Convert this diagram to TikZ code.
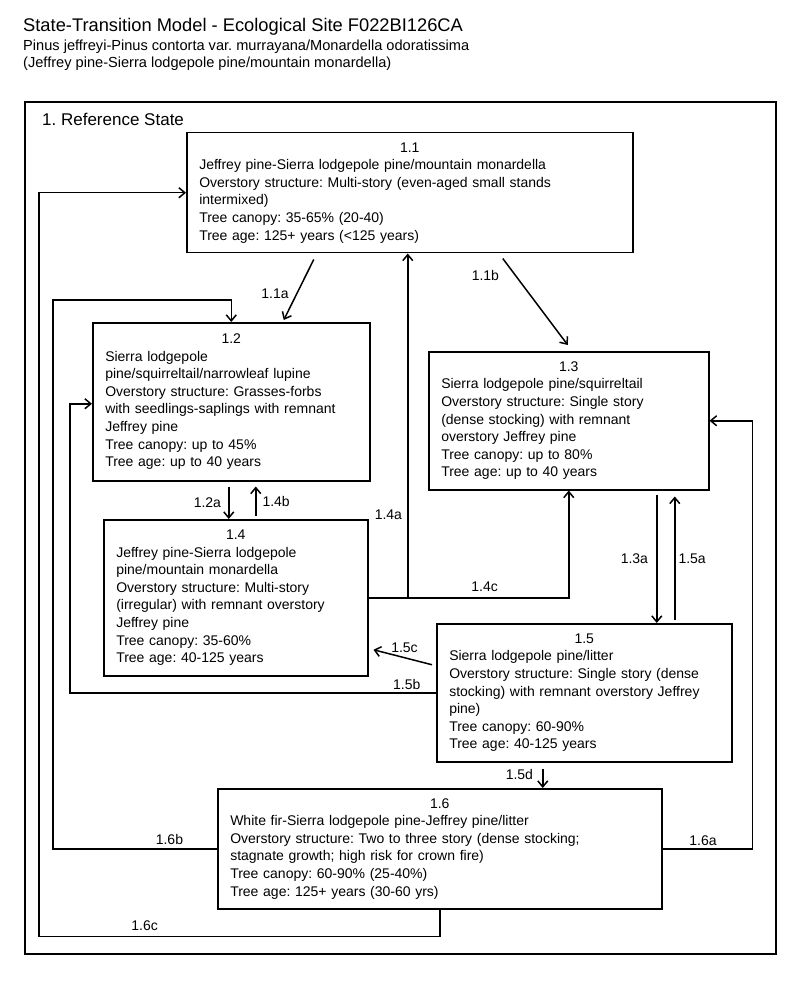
\documentclass[tikz,border=0pt]{standalone}
\usepackage{fontspec}
\setmainfont{Liberation Sans}
\usetikzlibrary{arrows.meta}
\frenchspacing

\tikzset{
  statebox/.style={draw, line width=1.5pt, anchor=north west, align=left,
    inner xsep=12.5pt, inner ysep=0pt, font=\fontsize{14}{17.6}\selectfont},
  trans/.style={line width=1.5pt, -{Straight Barb[length=6pt,width=10pt,line width=1.5pt]}},
  lbl/.style={inner sep=0pt, font=\fontsize{14}{16}\selectfont}
}
\newcommand{\stnum}[1]{\makebox[\linewidth]{#1}\\}

\begin{document}
\begin{tikzpicture}[x=1pt, y=-1pt]
      \useasboundingbox (0,0) rectangle (800,981);

      % Heading
      \node[anchor=west, inner sep=0pt, font=\fontsize{18.3}{20}\selectfont] (title) at (23,27) {State-Transition Model - Ecological Site F022BI126CA};
      \node[anchor=west, inner sep=0pt, font=\fontsize{14.6}{16}\selectfont] (sci) at (23,47) {Pinus jeffreyi-Pinus contorta var. murrayana/Monardella odoratissima};
      \node[anchor=west, inner sep=0pt, font=\fontsize{14.6}{16}\selectfont] (common) at (23,64) {(Jeffrey pine-Sierra lodgepole pine/mountain monardella)};

      % Reference state frame
      \draw[line width=2.4pt] (25,102) rectangle (776,954);
      \node[anchor=west, inner sep=0pt, font=\fontsize{17}{19}\selectfont] (refstate) at (42,119) {1. Reference State};

      % States
      \node[statebox, text width=421pt, minimum height=120pt] (s11) at (186,132) {\stnum{1.1}Jeffrey pine-Sierra lodgepole pine/mountain monardella\\Overstory structure: Multi-story (even-aged small stands\\intermixed)\\Tree canopy: 35-65\% (20-40)\\Tree age: 125+ years (<125 years)};
      \node[statebox, text width=252pt, minimum height=158pt] (s12) at (92,322) {\stnum{1.2}Sierra lodgepole\\pine/squirreltail/narrowleaf lupine\\Overstory structure: Grasses-forbs\\with seedlings-saplings with remnant\\Jeffrey pine\\Tree canopy: up to 45\%\\Tree age: up to 40 years};
      \node[statebox, text width=255pt, minimum height=138pt] (s13) at (428,351) {\stnum{1.3}Sierra lodgepole pine/squirreltail\\Overstory structure: Single story\\(dense stocking) with remnant\\overstory Jeffrey pine\\Tree canopy: up to 80\%\\Tree age: up to 40 years};
      \node[statebox, text width=239pt, minimum height=156pt] (s14) at (103,519) {\stnum{1.4}Jeffrey pine-Sierra lodgepole\\pine/mountain monardella\\Overstory structure: Multi-story\\(irregular) with remnant overstory\\Jeffrey pine\\Tree canopy: 35-60\%\\Tree age: 40-125 years};
      \node[statebox, text width=270pt, minimum height=138pt] (s15) at (436,623) {\stnum{1.5}Sierra lodgepole pine/litter\\Overstory structure: Single story (dense\\stocking) with remnant overstory Jeffrey\\pine)\\Tree canopy: 60-90\%\\Tree age: 40-125 years};
      \node[statebox, text width=419pt, minimum height=120pt] (s16) at (217,788) {\stnum{1.6}White fir-Sierra lodgepole pine-Jeffrey pine/litter\\Overstory structure: Two to three story (dense stocking;\\stagnate growth; high risk for crown fire)\\Tree canopy: 60-90\% (25-40\%)\\Tree age: 125+ years (30-60 yrs)};

      % Transitions
      \draw[trans] ([xshift=-96pt,yshift=-6pt]s11.south) -- node[lbl, pos=0.56, left=7.5pt] {1.1a} ([xshift=52.5pt,yshift=2pt]s12.north);
      \draw[trans] ([xshift=93pt,yshift=-5pt]s11.south) -- node[lbl, pos=0.2, left=16pt] {1.1b} ([xshift=-1pt,yshift=6pt]s13.north);
      \draw[trans] ([xshift=-2.5pt,yshift=-5pt]s12.south) -- node[lbl, pos=0.5, left=7pt] {1.2a} ([xshift=-7pt]s14.north);
      \draw[trans] ([xshift=20pt,yshift=3pt]s14.north) -- node[lbl, pos=0.5, right=6pt] {1.4b} ([xshift=24.5pt,yshift=-5pt]s12.south);
      \draw[trans] (s14.east) -| node[lbl, pos=0.62, left=5pt] {1.4a} ([xshift=-2pt]s11.south);
      \draw[trans] (s14.east) -| node[lbl, pos=0.29, above=5pt] {1.4c} (s13.south);
      \draw[trans] ([xshift=88pt,yshift=-4pt]s13.south) -- node[lbl, pos=0.5, left=8pt] {1.3a} ([xshift=72.5pt]s15.north);
      \draw[trans] ([xshift=90.5pt,yshift=3pt]s15.north) -- node[lbl, pos=0.5, right=3pt] {1.5a} ([xshift=106pt,yshift=-6pt]s13.south);
      \draw[trans] (s15.west) -- node[lbl, pos=0.08, above=2pt] {1.5b} ++(-366,0) |- ([yshift=-2pt]s12.west);
      \draw[trans] ([xshift=-4pt,yshift=28pt]s15.west) -- node[lbl, pos=0.47, above=4pt] {1.5c} ([xshift=5pt,yshift=-52pt]s14.east);
      \draw[trans] ([xshift=-41.5pt,yshift=-6pt]s15.south) -- node[lbl, pos=0.3, left=9pt] {1.5d} ([xshift=103pt]s16.north);
      \draw[trans] (s16.east) -- node[lbl, pos=0.45, above=2pt] {1.6a} ++(90,0) |- (s13.east);
      \draw[trans] (s16.west) -- node[lbl, pos=0.29, above=3pt] {1.6b} ++(-164,0) |- ([yshift=22pt]s12.north) -- (s12.north);
      \draw[trans] (s16.south) -- ++(0,27) -- node[lbl, pos=0.736, above=5pt] {1.6c} ++(-401,0) |- (s11.west);
\end{tikzpicture}
\end{document}
